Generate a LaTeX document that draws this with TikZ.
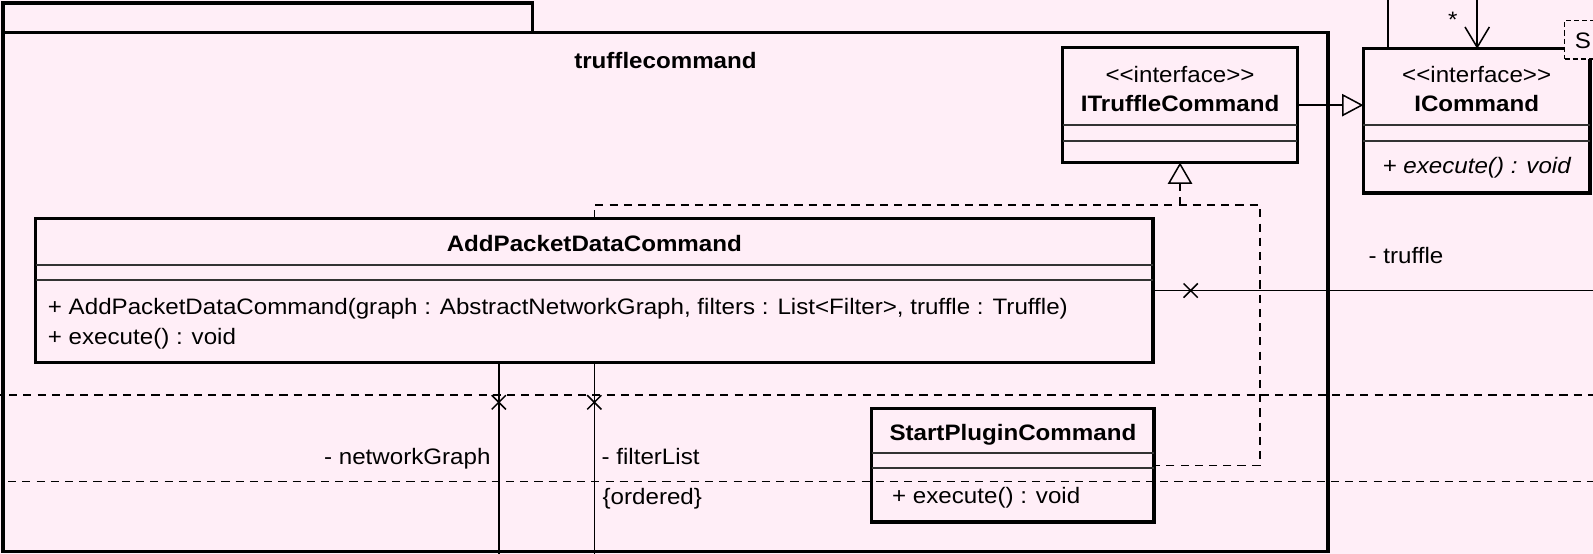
\documentclass[tikz,border=0pt]{standalone}
\usepackage{fontspec}
\setmainfont{Liberation Sans}[FakeStretch=1.08]
\usetikzlibrary{arrows.meta,shapes.misc}
\definecolor{bg}{RGB}{255,238,247}
\newcommand{\fs}{\fontsize{22}{26}\selectfont}
\newcommand{\stereo}{<{}<interface>{}>}
\begin{document}
\begin{tikzpicture}[x=1pt,y=-1pt,
  box/.style={draw, line width=3.4pt, fill=bg, inner sep=0pt, outer sep=0pt, anchor=north west},
  comp/.style={line width=1.9pt, draw=black!80},
  conn/.style={line width=1.5pt},
  dline/.style={line width=1.5pt, dash pattern=on 8pt off 6pt},
  txt/.style={inner sep=0pt, font=\fs, anchor=base},
  btxt/.style={txt, font=\fs\bfseries},
  itxt/.style={txt, font=\fs\itshape},
  xmark/.style={cross out, draw, line width=1.5pt, minimum size=14pt, inner sep=0pt, outer sep=0pt},
]
\useasboundingbox (0,0) rectangle (1568,545);
\fill[bg] (0,0) rectangle (1568,545);
\clip (0,0) rectangle (1568,545);

% package
\node[box, minimum width=521pt, minimum height=29pt] (pkgtab) at (3,3) {};
\node[box, minimum width=1304pt, minimum height=511pt] (pkg) at (3,32) {};
\node[btxt] (pkgname) at (655,67) {trufflecommand};

% ITruffleCommand
\node[box, minimum width=231pt, minimum height=113pt] (itc) at (1046,47) {};
\draw[comp] (itc.west |- 0,123) -- (itc.east |- 0,123);
\draw[comp] (itc.west |- 0,138.5) -- (itc.east |- 0,138.5);
\node[txt] (itcst) at (1161.5,81) {\stereo};
\node[btxt] (itcname) at (1161.5,110) {ITruffleCommand};

% ICommand
\node[box, minimum width=223pt, minimum height=142pt] (ic) at (1342,48) {};
\draw[comp] (ic.west |- 0,123) -- (ic.east |- 0,123);
\draw[comp] (ic.west |- 0,138.5) -- (ic.east |- 0,138.5);
\node[txt] (icst) at (1453.5,81) {\stereo};
\node[btxt] (icname) at (1453.5,110) {ICommand};
\node[itxt] (icop) at (1453.5,171) {+ execute() : void};
\node[draw, dash pattern=on 5pt off 3pt, line width=1.4pt, fill=bg, minimum width=40pt, minimum height=38pt, anchor=north west, inner sep=0pt, outer sep=0pt] (sbox) at (1540,20) {};
\node[txt] (stxt) at (1558,48) {S};

% AddPacketDataCommand
\node[box, minimum width=1100pt, minimum height=142pt] (apdc) at (35,215) {};
\draw[comp] (apdc.west |- 0,261) -- (apdc.east |- 0,261);
\draw[comp] (apdc.west |- 0,276) -- (apdc.east |- 0,276);
\node[btxt] (apdcname) at (585,248) {AddPacketDataCommand};
\node[txt, anchor=base west] (apdcop1) at (47,310) {+ AddPacketDataCommand(graph : AbstractNetworkGraph, filters : List<Filter>, truffle : Truffle)};
\node[txt, anchor=base west] (apdcop2) at (47,339) {+ execute() : void};

% StartPluginCommand
\node[box, minimum width=278pt, minimum height=112pt] (spc) at (858,402) {};
\draw[comp] (spc.west |- 0,446) -- (spc.east |- 0,446);
\draw[comp] (spc.west |- 0,461) -- (spc.east |- 0,461);
\node[btxt] (spcname) at (997,434) {StartPluginCommand};
\node[txt, anchor=base west] (spcop) at (878,496) {+ execute() : void};

% realization
\coordinate (rj) at (1240,202);
\draw[dline] (apdc.north) |- (rj) |- (spc.east);
\draw[dline, -{Triangle[fill=bg, length=21pt, width=24pt]}] (itc.south |- rj) -- (itc.south);

% generalization
\draw[conn, -{Triangle[fill=bg, length=21pt, width=22pt]}] (itc.east) -- (itc.east -| ic.west);

% lines from above
\coordinate (topL) at (1366,-5);
\coordinate (topA) at (1454,-5);
\draw[conn] (topL) -- (topL |- ic.north);
\draw[conn, -{Straight Barb[length=20pt, width=24pt]}] (topA) -- (topA |- ic.north);
\node[txt] (star) at (1430,27) {*};

% truffle association
\coordinate (trEnd) at (1575,286);
\draw[conn] (apdc.east |- trEnd) -- (trEnd);
\node[xmark] (x1) at (1172,286) {};
\node[txt, anchor=base west] (trlab) at (1347,259) {- truffle};

% through dashed lines
\coordinate (h1a) at (-5,389);
\coordinate (h1b) at (1575,389);
\coordinate (h2a) at (8,474);
\coordinate (h2b) at (1575,474);
\draw[dline] (h1a) -- (h1b);
\draw[dline] (h2a) -- (h2b);

% networkGraph, filterList
\coordinate (ngEnd) at (491,550);
\coordinate (flEnd) at (585,550);
\draw[conn] (ngEnd |- apdc.south) -- (ngEnd);
\draw[conn] (flEnd |- apdc.south) -- (flEnd);
\node[xmark] (x2) at (491,396) {};
\node[xmark] (x3) at (585,396) {};
\node[txt, anchor=base east] (nglab) at (483,457) {- networkGraph};
\node[txt, anchor=base west] (fllab) at (592,457) {- filterList};
\node[txt, anchor=base west] (ordlab) at (593,497) {\{ordered\}};
\end{tikzpicture}
\end{document}
